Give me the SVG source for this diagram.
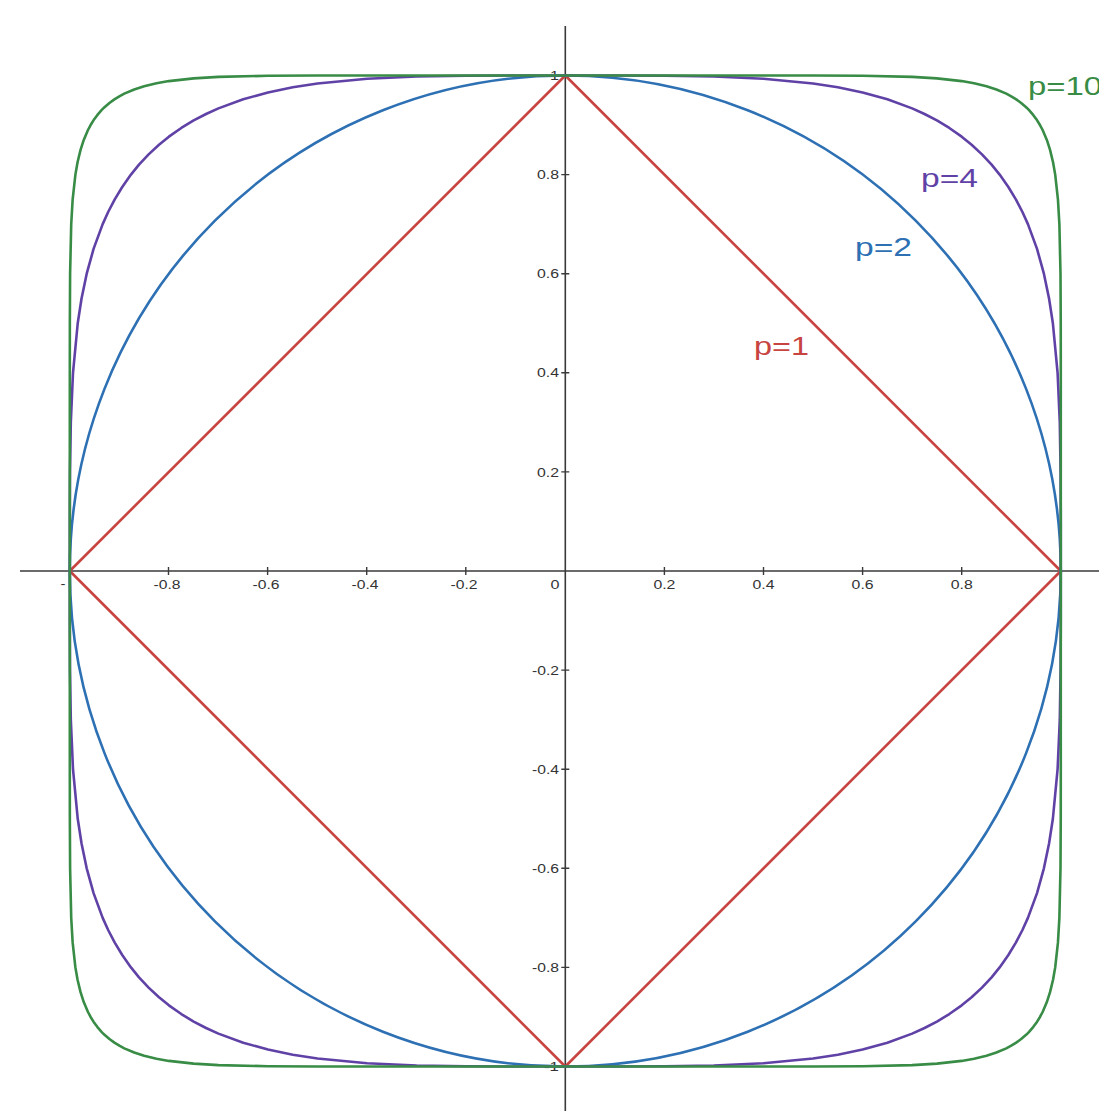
<svg xmlns="http://www.w3.org/2000/svg" xmlns:xlink="http://www.w3.org/1999/xlink" width="1099" height="1111" viewBox="0 0 1099 1111">
<style>
.ax{stroke:#3a3a3a;stroke-width:1.6;fill:none}
.tk{stroke:#3a3a3a;stroke-width:1.4}
.tl{font-family:"Liberation Sans",Arial,sans-serif;font-size:13px;fill:#333}
.cv{fill:none;stroke-width:2.6;stroke-linejoin:round;vector-effect:non-scaling-stroke}
.lb{font-family:"Liberation Sans",Arial,sans-serif;font-size:26px}
</style>
<defs>
<polyline id="q4" class="cv" points="0,1 0.1,0.99998 0.2,0.9996 0.3,0.99797 0.4,0.99354 0.5,0.984 0.55,0.97629 0.6,0.96589 0.65,0.95203 0.7,0.93366 0.725,0.92234 0.75,0.90928 0.775,0.89416 0.8,0.87657 0.82,0.86034 0.8409,0.8409 0.86034,0.82 0.87657,0.8 0.89416,0.775 0.90928,0.75 0.92234,0.725 0.93366,0.7 0.95203,0.65 0.96589,0.6 0.97629,0.55 0.984,0.5 0.99354,0.4 0.99797,0.3 0.9996,0.2 0.99998,0.1 1,0"/>
<polyline id="q10" class="cv" points="0,1 0.4,0.99999 0.5,0.9999 0.6,0.99939 0.7,0.99714 0.75,0.99422 0.8,0.98871 0.825,0.98434 0.85,0.97831 0.87,0.97184 0.89,0.96332 0.9,0.95801 0.91,0.95186 0.92,0.94459 0.93,0.93598 0.93303,0.93303 0.93598,0.93 0.94459,0.92 0.95186,0.91 0.95801,0.9 0.96332,0.89 0.97184,0.87 0.97831,0.85 0.98434,0.825 0.98871,0.8 0.99422,0.75 0.99714,0.7 0.99939,0.6 0.9999,0.5 0.99999,0.4 1,0"/>
</defs>
<rect width="1099" height="1111" fill="#fff"/>
<g id="axes">
<line class="ax" x1="20" y1="571" x2="1099" y2="571"/>
<line class="ax" x1="565.3" y1="26" x2="565.3" y2="1111"/>
</g>
<g id="ticks">
<path class="tk" d="M168.5 567v8M267.6 567v8M366.7 567v8M465.8 567v8M664.4 567v8M763.5 567v8M862.6 567v8M961.7 567v8M561.3 174.6h8M561.3 273.7h8M561.3 372.8h8M561.3 471.9h8M561.3 670.1h8M561.3 769.2h8M561.3 868.3h8M561.3 967.4h8"/>
</g>
<g id="tick-labels" class="tl">
<text x="63" y="588" text-anchor="middle" textLength="5" lengthAdjust="spacingAndGlyphs">-</text>
<text x="167" y="589" text-anchor="middle" textLength="27" lengthAdjust="spacingAndGlyphs">-0.8</text>
<text x="266" y="589" text-anchor="middle" textLength="27" lengthAdjust="spacingAndGlyphs">-0.6</text>
<text x="365" y="589" text-anchor="middle" textLength="27" lengthAdjust="spacingAndGlyphs">-0.4</text>
<text x="464" y="589" text-anchor="middle" textLength="27" lengthAdjust="spacingAndGlyphs">-0.2</text>
<text x="555" y="589" text-anchor="middle" textLength="9" lengthAdjust="spacingAndGlyphs">0</text>
<text x="664.4" y="589" text-anchor="middle" textLength="22" lengthAdjust="spacingAndGlyphs">0.2</text>
<text x="763.5" y="589" text-anchor="middle" textLength="22" lengthAdjust="spacingAndGlyphs">0.4</text>
<text x="862.6" y="589" text-anchor="middle" textLength="22" lengthAdjust="spacingAndGlyphs">0.6</text>
<text x="961.7" y="589" text-anchor="middle" textLength="22" lengthAdjust="spacingAndGlyphs">0.8</text>
<text x="559" y="80" text-anchor="end" textLength="9" lengthAdjust="spacingAndGlyphs">1</text>
<text x="559" y="179.2" text-anchor="end" textLength="22" lengthAdjust="spacingAndGlyphs">0.8</text>
<text x="559" y="278.3" text-anchor="end" textLength="22" lengthAdjust="spacingAndGlyphs">0.6</text>
<text x="559" y="377.4" text-anchor="end" textLength="22" lengthAdjust="spacingAndGlyphs">0.4</text>
<text x="559" y="476.5" text-anchor="end" textLength="22" lengthAdjust="spacingAndGlyphs">0.2</text>
<text x="559" y="674.7" text-anchor="end" textLength="27" lengthAdjust="spacingAndGlyphs">-0.2</text>
<text x="559" y="773.8" text-anchor="end" textLength="27" lengthAdjust="spacingAndGlyphs">-0.4</text>
<text x="559" y="872.9" text-anchor="end" textLength="27" lengthAdjust="spacingAndGlyphs">-0.6</text>
<text x="559" y="972" text-anchor="end" textLength="27" lengthAdjust="spacingAndGlyphs">-0.8</text>
<text x="559" y="1071" text-anchor="end" textLength="15" lengthAdjust="spacingAndGlyphs">-1</text>
</g>
<g id="curves" transform="translate(565.3 571) scale(495.5 -495.5)">
<g id="curve-p1" stroke="#c74440">
<polygon class="cv" points="0,1 1,0 0,-1 -1,0"/>
</g>
<g id="curve-p2" stroke="#2d70b3">
<circle class="cv" cx="0" cy="0" r="1"/>
</g>
<g id="curve-p4" stroke="#6042a6">
<use xlink:href="#q4"/>
<use xlink:href="#q4" transform="scale(-1 1)"/>
<use xlink:href="#q4" transform="scale(1 -1)"/>
<use xlink:href="#q4" transform="scale(-1 -1)"/>
</g>
<g id="curve-p10" stroke="#388c46">
<use xlink:href="#q10"/>
<use xlink:href="#q10" transform="scale(-1 1)"/>
<use xlink:href="#q10" transform="scale(1 -1)"/>
<use xlink:href="#q10" transform="scale(-1 -1)"/>
</g>
</g>
<g id="curve-labels" class="lb">
<text x="754" y="355" fill="#c74440" textLength="55" lengthAdjust="spacingAndGlyphs">p=1</text>
<text x="855" y="256" fill="#2d70b3" textLength="57" lengthAdjust="spacingAndGlyphs">p=2</text>
<text x="921" y="187" fill="#6042a6" textLength="57" lengthAdjust="spacingAndGlyphs">p=4</text>
<text x="1028" y="95" fill="#388c46" textLength="74" lengthAdjust="spacingAndGlyphs">p=10</text>
</g>
</svg>
